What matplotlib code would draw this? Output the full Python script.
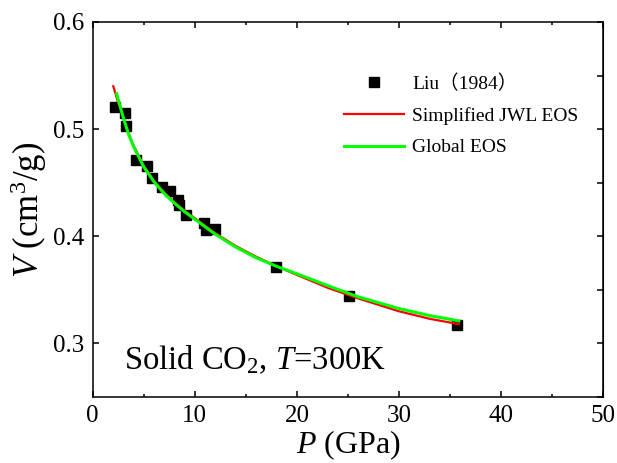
import matplotlib
matplotlib.use("Agg")
import matplotlib.pyplot as plt
from matplotlib.ticker import MultipleLocator
from matplotlib.font_manager import FontProperties

plt.rcParams['font.family'] = ['Liberation Serif', 'Noto Sans CJK SC']
plt.rcParams['mathtext.fontset'] = 'custom'
plt.rcParams['mathtext.rm'] = 'Liberation Serif'
plt.rcParams['mathtext.it'] = 'Liberation Serif:italic'

# =============================
# DATOS
# =============================
# Liu (1984)
p_liu = [2.2, 3.2, 3.3, 4.25, 5.3, 5.8, 6.75, 7.55, 8.4, 8.5, 9.1,
         10.9, 11.1, 11.95, 18.0, 25.1, 35.7]
v_liu = [0.521, 0.515, 0.503, 0.4715, 0.466, 0.454, 0.446, 0.442, 0.4335,
         0.4295, 0.420, 0.412, 0.406, 0.407, 0.3715, 0.3447, 0.3168]

# Simplified JWL EOS
p_jwl = [2.03, 2.5, 3.0, 3.5, 4.0, 5.0, 6.0, 7.0, 8.0, 9.0, 10.0, 12.0,
         14.0, 16.0, 18.0, 20.0, 23.0, 26.0, 30.0, 33.0, 35.85]
v_jwl = [0.540, 0.525, 0.512, 0.497, 0.485, 0.466, 0.452, 0.441, 0.432,
         0.424, 0.417, 0.403, 0.391, 0.381, 0.372, 0.364, 0.352, 0.342,
         0.330, 0.323, 0.318]

# Global EOS
p_glob = [2.36, 3.0, 3.5, 4.0, 5.0, 6.0, 7.0, 8.0, 9.0, 10.0, 12.0, 14.0,
          16.0, 18.0, 20.0, 23.0, 26.0, 30.0, 33.0, 35.85]
v_glob = [0.533, 0.511, 0.496, 0.484, 0.465, 0.451, 0.440, 0.431, 0.423,
          0.416, 0.402, 0.390, 0.380, 0.372, 0.365, 0.354, 0.3435, 0.3325,
          0.326, 0.321]

# =============================
# GRAFICA
# =============================
fig = plt.figure(figsize=(6.17, 4.63), dpi=100)
ax = fig.add_axes([0.150, 0.1425, 0.828, 0.810])

ax.plot(p_liu, v_liu, 's', color='black', markersize=7.5, label='Liu（1984）')
ax.plot(p_jwl, v_jwl, '-', color='#ff0000', lw=1.6, label='Simplified JWL EOS')
ax.plot(p_glob, v_glob, '-', color='#00ff00', lw=2.2, label='Global EOS')

ax.set_xlim(0, 50)
ax.set_ylim(0.25, 0.6)
ax.xaxis.set_major_locator(MultipleLocator(10))
ax.xaxis.set_minor_locator(MultipleLocator(5))
ax.yaxis.set_major_locator(MultipleLocator(0.1))
ax.yaxis.set_major_formatter(plt.FormatStrFormatter('%.1f'))

ax.tick_params(which='both', direction='in', labelsize=18, width=1.1,
               top=True, pad=6)
ax.tick_params(which='major', length=4.5)
ax.tick_params(which='minor', length=2.5)
for s in ax.spines.values():
    s.set_linewidth(1.1)

# eje derecho con marcas cada 0.05
sec = ax.secondary_yaxis('right')
sec.yaxis.set_major_locator(MultipleLocator(0.05))
sec.tick_params(direction='in', length=4.5, width=1.1, labelright=False)

ax.set_xlabel(r'$\it{P}$ (GPa)', fontsize=23, labelpad=0.5)
ax.set_ylabel(r'$\it{V}$ (cm$^3$/g)', fontsize=25, labelpad=3)

ax.text(3.1, 0.276, r'Solid CO$_2$, $\it{T}$=300K', fontsize=23.5)

leg = ax.legend(loc='upper left', bbox_to_anchor=(0.458, 0.907), frameon=False,
                prop=FontProperties(family=['Liberation Serif', 'Noto Sans CJK SC'], size=14),
                handlelength=3.1, labelspacing=0.72, handletextpad=0.4)

fig.savefig("out.png", dpi=100)
